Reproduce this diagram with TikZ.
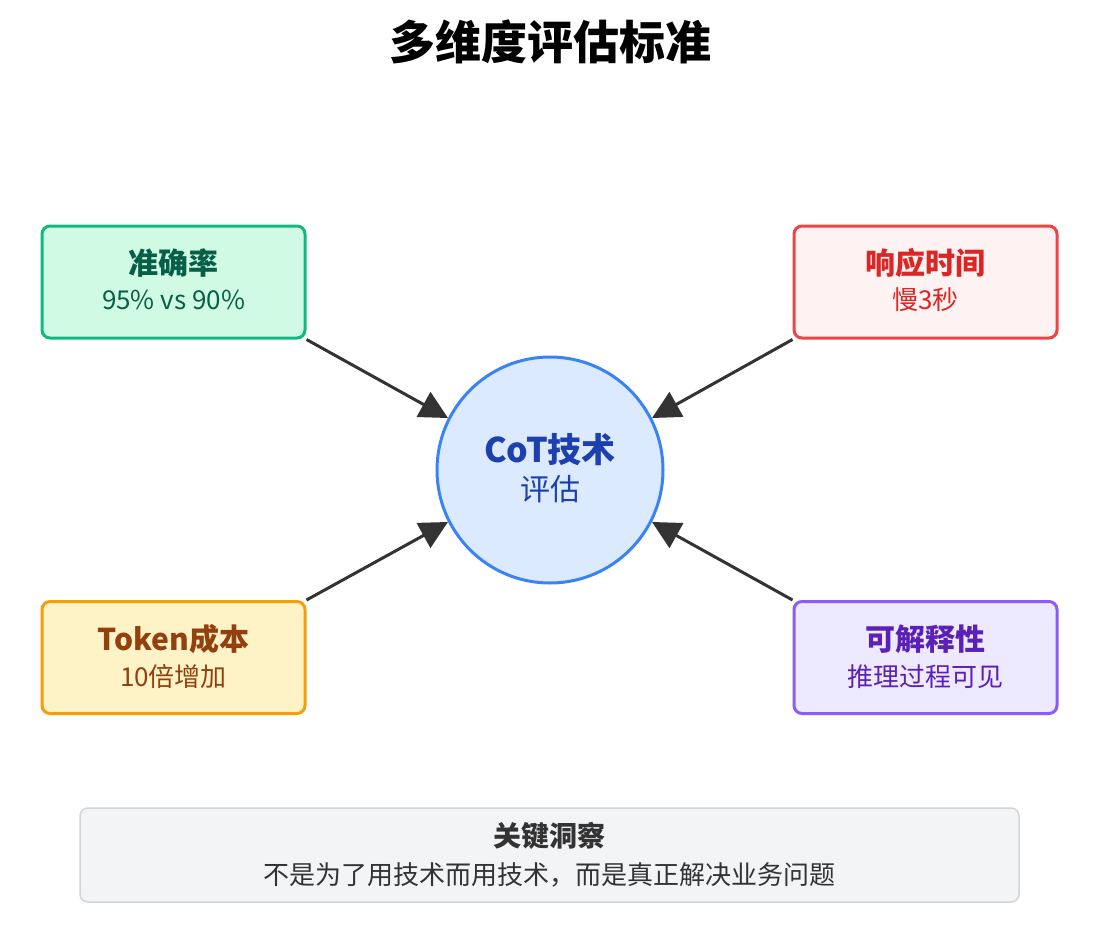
\documentclass[tikz,border=0pt]{standalone}
\usepackage{fontspec}
\setmainfont{Noto Sans CJK SC}
\usetikzlibrary{arrows.meta}
\definecolor{gB}{HTML}{10B981}\definecolor{gF}{HTML}{D1FAE5}\definecolor{gT}{HTML}{065F46}
\definecolor{rB}{HTML}{EF4444}\definecolor{rF}{HTML}{FEF2F2}\definecolor{rT}{HTML}{DC2626}
\definecolor{oB}{HTML}{F59E0B}\definecolor{oF}{HTML}{FEF3C7}\definecolor{oT}{HTML}{92400E}
\definecolor{pB}{HTML}{8B5CF6}\definecolor{pF}{HTML}{EDE9FE}\definecolor{pT}{HTML}{5B21B6}
\definecolor{bB}{HTML}{3B82F6}\definecolor{bF}{HTML}{DBEAFE}\definecolor{bT}{HTML}{1E40AF}
\definecolor{nF}{HTML}{F3F4F6}\definecolor{nB}{HTML}{D1D5DB}\definecolor{dk}{HTML}{333333}
\begin{document}
\begin{tikzpicture}[x=1pt,y=-1pt,
 card/.style={draw,line width=3pt,rounded corners=8pt,minimum width=263pt,minimum height=112pt,align=center,inner sep=0pt},
 conn/.style={draw=dk,line width=3pt,-{Triangle[length=28pt,width=28pt]}},
 hd/.style={font=\bfseries\fontsize{30}{34}\selectfont},
 sb/.style={font=\fontsize{26}{30}\selectfont}]
\useasboundingbox[fill=white] (0,0) rectangle (1093,940);
\node[font=\bfseries\fontsize{46}{52}\selectfont] (title) at (550,42) {多维度评估标准};
\node[card,draw=gB,fill=gF,text=gT] (tl) at (173.5,282) {};
\node[hd,text=gT] at (173.5,263) {准确率};
\node[sb,text=gT] at (173.5,300) {95\% vs 90\%};
\node[card,draw=rB,fill=rF] (tr) at (925.5,282) {};
\node[hd,text=rT] at (925.5,263) {响应时间};
\node[sb,text=rT] at (925.5,300) {慢3秒};
\node[card,draw=oB,fill=oF] (bl) at (173.5,657.5) {};
\node[hd,text=oT] at (173.5,639) {Token成本};
\node[sb,text=oT] at (173.5,677) {10倍增加};
\node[card,draw=pB,fill=pF] (br) at (925.5,657.5) {};
\node[hd,text=pT] at (925.5,639) {可解释性};
\node[sb,text=pT] at (925.5,677) {推理过程可见};
\node[circle,draw=bB,fill=bF,line width=3pt,minimum size=226pt,inner sep=0pt] (c) at (550,470) {};
\node[text=bT,font=\bfseries\fontsize{34}{38}\selectfont] at (550,450) {CoT技术};
\node[text=bT,font=\fontsize{30}{34}\selectfont] at (550,489) {评估};
\draw[conn] (tl.south east) -- (c.153);
\draw[conn] (tr.south west) -- (c.27);
\draw[conn] (bl.north east) -- (c.207);
\draw[conn] (br.north west) -- (c.333);
\node[draw=nB,fill=nF,line width=1.5pt,rounded corners=8pt,minimum width=939pt,minimum height=94pt] (note) at (549.5,855) {};
\node[text=dk,font=\bfseries\fontsize{28}{32}\selectfont] at (549.5,836) {关键洞察};
\node[sb,text=dk] at (549.5,875) {不是为了用技术而用技术，而是真正解决业务问题};
\end{tikzpicture}
\end{document}
